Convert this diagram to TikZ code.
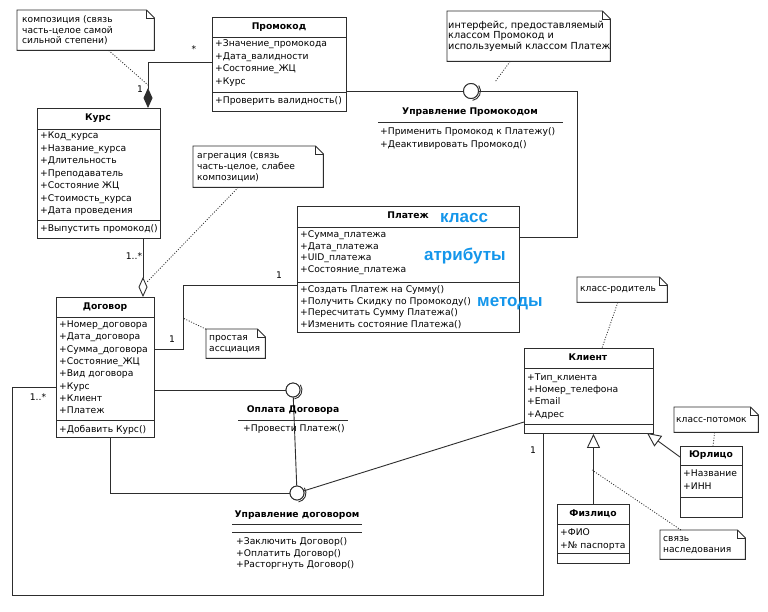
\documentclass[tikz,border=0pt]{standalone}
\usepackage{fontspec}
\setmainfont{DejaVu Sans}
\newfontfamily\lblfont{Liberation Sans}
\usetikzlibrary{arrows.meta,calc}
\definecolor{ln}{RGB}{45,45,45}
\definecolor{lbl}{RGB}{20,150,235}
\newcommand\fs{\fontsize{9.2}{12}\selectfont}
\newcommand\fsn{\fontsize{9.1}{10.8}\selectfont}
\newcommand\fsnb{\fontsize{9.7}{10.4}\selectfont}
\newcommand\notefold[1]{%
  \draw[conn] (#1.north west) -- ([xshift=-8pt]#1.north east) -- ([yshift=-8pt]#1.north east) -- (#1.south east) -- (#1.south west) -- cycle;
  \draw[conn] ([xshift=-8pt]#1.north east) -- ([xshift=-8pt,yshift=-8pt]#1.north east) -- ([yshift=-8pt]#1.north east);}
\begin{document}
\begin{tikzpicture}[x=1pt,y=-1pt,
  conn/.style={draw=ln, line width=0.9pt},
  box/.style={draw=ln, line width=0.9pt, fill=white, inner sep=0pt, anchor=north west},
  ttl/.style={font=\fs\bfseries, inner sep=0pt, text height=7pt, text depth=2pt},
  attr/.style={font=\fs, inner sep=0pt, anchor=west, text height=7pt, text depth=2pt},
  notebox/.style={inner sep=0pt, anchor=north west, font=\fsn, align=left},
  dotl/.style={draw=ln, line width=0.8pt, dash pattern=on 1pt off 1.6pt},
  lab/.style={font=\fs, inner sep=0pt},
  bluelbl/.style={font=\lblfont\fontsize{17}{17}\selectfont\bfseries, text=lbl, inner sep=0pt, anchor=base west},
  iface/.style={circle, draw=ln, line width=0.9pt, fill=white, minimum size=15pt, inner sep=0pt},
]
\fill[white] (0,0) rectangle (768,611);
\useasboundingbox (0,0) rectangle (768,611);

% ---------- Промокод
\node[box, minimum width=134pt, minimum height=94pt] (promo) at (212,17) {};
\draw[conn] (212,37) -- (346,37); \draw[conn] (212,92) -- (346,92);
\node[ttl] (promoT) at (279,27) {Промокод};
\foreach \t [count=\i from 0] in {+Значение\_промокода,+Дата\_валидности,+Состояние\_ЖЦ,+Курс}
  \node[attr] (promoA\i) at (215,{44+12.6*\i}) {\t};
\node[attr] (promoM) at (215,101) {+Проверить валидность()};

% ---------- Курс
\node[box, minimum width=123pt, minimum height=130pt] (kurs) at (37,108) {};
\draw[conn] (37,129) -- (160,129); \draw[conn] (37,220) -- (160,220);
\node[ttl] (kursT) at (98,118) {Курс};
\foreach \t [count=\i from 0] in {+Код\_курса,+Название\_курса,+Длительность,+Преподаватель,+Состояние ЖЦ,+Стоимость\_курса,+Дата проведения}
  \node[attr] (kursA\i) at (40,{136+12.5*\i}) {\t};
\node[attr] (kursM) at (40,229) {+Выпустить промокод()};

% ---------- Платеж
\node[box, minimum width=222pt, minimum height=126pt] (platezh) at (297,206) {};
\draw[conn] (297,227) -- (519,227); \draw[conn] (297,282) -- (519,282);
\node[ttl] (platezhT) at (408,216) {Платеж};
\foreach \t [count=\i from 0] in {+Сумма\_платежа,+Дата\_платежа,+UID\_платежа,+Состояние\_платежа}
  \node[attr] (platezhA\i) at (300,{235+11.7*\i}) {\t};
\foreach \t [count=\i from 0] in {+Создать Платеж на Сумму(),+Получить Скидку по Промокоду(),+Пересчитать Сумму Платежа(),+Изменить состояние Платежа()}
  \node[attr] (platezhM\i) at (300,{290+11.7*\i}) {\t};
\node[bluelbl] (lk) at (440,222) {класс};
\node[bluelbl] (la) at (424,260) {атрибуты};
\node[bluelbl] (lm) at (477,306) {методы};

% ---------- Договор
\node[box, minimum width=98pt, minimum height=140pt] (dogovor) at (56,297) {};
\draw[conn] (56,317) -- (154,317); \draw[conn] (56,420) -- (154,420);
\node[ttl] (dogovorT) at (105,307) {Договор};
\foreach \t [count=\i from 0] in {+Номер\_договора,+Дата\_договора,+Сумма\_договора,+Состояние\_ЖЦ,+Вид договора,+Курс,+Клиент,+Платеж}
  \node[attr] (dogovorA\i) at (59,{325+12.3*\i}) {\t};
\node[attr] (dogovorM) at (59,430) {+Добавить Курс()};

% ---------- Клиент
\node[box, minimum width=129pt, minimum height=85pt] (klient) at (524,348) {};
\draw[conn] (524,368) -- (653,368); \draw[conn] (524,424) -- (653,424);
\node[ttl] (klientT) at (588,358) {Клиент};
\foreach \t [count=\i from 0] in {+Тип\_клиента,+Номер\_телефона,+Email,+Адрес}
  \node[attr] (klientA\i) at (527,{378+12.2*\i}) {\t};

% ---------- Юрлицо
\node[box, minimum width=62pt, minimum height=71pt] (urlico) at (680,446) {};
\draw[conn] (680,465) -- (742,465); \draw[conn] (680,497) -- (742,497);
\node[ttl] (urlicoT) at (711,455) {Юрлицо};
\node[attr] (urlicoA0) at (683,474) {+Название};
\node[attr] (urlicoA1) at (683,487) {+ИНН};

% ---------- Физлицо
\node[box, minimum width=72pt, minimum height=59pt] (fizlico) at (557,504) {};
\draw[conn] (557,524) -- (629,524); \draw[conn] (557,553) -- (629,553);
\node[ttl] (fizlicoT) at (593,514) {Физлицо};
\node[attr] (fizlicoA0) at (560,533) {+ФИО};
\node[attr] (fizlicoA1) at (560,546) {+№ паспорта};

% ---------- interfaces
\node[iface] (ipromo) at (471,91) {};
\node[iface, minimum size=14pt] (ioplata) at (293,390) {};
\node[iface, minimum size=14pt] (iupr) at (297,493) {};

% ---------- connectors
\coordinate (c1) at (148,62);
\draw[conn, -{Diamond[length=20pt,width=9pt]}] (c1 -| promo.west) -- (c1) -- (c1 |- kurs.north);
\coordinate (c2) at (143,250);
\draw[conn, -{Diamond[open,fill=white,length=20pt,width=9pt]}] (c2 |- kurs.south) -- (c2 |- dogovor.north);
\coordinate (c3) at (183,349); \coordinate (c3b) at (183,285);
\draw[conn] (c3 -| dogovor.east) -- (c3) -- (c3b) -- (c3b -| platezh.west);
\draw[conn] (ipromo.west -| promo.east) -- (ipromo.west);
\coordinate (c5) at (577,237);
\draw[conn] (ipromo.east) -- (ipromo.east -| c5) -- (c5) -- (c5 -| platezh.east);
\draw[conn] (ioplata.west -| dogovor.east) -- (ioplata.west);
\draw[conn] (ioplata) -- (iupr);
\coordinate (c6) at (110,493);
\draw[conn] (c6 |- dogovor.south) -- (c6) -- (iupr.west);
\coordinate (c7) at (524,422);
\draw[conn] (iupr) -- (klient.west |- c7);
\coordinate (c8) at (12,387); \coordinate (c9) at (12,595); \coordinate (c10) at (543,595);
\draw[conn] (c8 -| dogovor.west) -- (c8) -- (c9) -- (c10) -- (c10 |- klient.south);
\draw[conn, -{Triangle[open,fill=white,length=14pt,width=13pt]}] (fizlico.north) -- (fizlico.north |- klient.south);
\coordinate (c12) at (680,457); \coordinate (c13) at (647,433);
\draw[conn, -{Triangle[open,fill=white,length=14pt,width=13pt]}] (urlico.west |- c12) -- (c13);

% redraw interface circles on top, with socket arcs
\node[iface] at (ipromo) {};
\node[iface, minimum size=14pt] at (ioplata) {};
\node[iface, minimum size=14pt] at (iupr) {};
\draw[conn] ($(ipromo.center)+(-35:9.5)$) arc (-35:80:9.5);
\draw[conn] ($(ioplata.center)+(-35:9)$) arc (-35:80:9);
\draw[conn] ($(iupr.center)+(-35:9)$) arc (-35:80:9);

\node[ttl] (ipromoT) at (470,112) {Управление Промокодом};
\draw[conn] (378,122) -- (563,122);
\node[attr] (ipromoM0) at (380,132) {+Применить Промокод к Платежу()};
\node[attr] (ipromoM1) at (380,145) {+Деактивировать Промокод()};

\node[ttl] (ioplataT) at (293,410) {Оплата Договора};
\draw[conn] (238,420) -- (348,420);
\node[attr] (ioplataM) at (243,429) {+Провести Платеж()};

\node[ttl] (iuprT) at (297,515) {Управление договором};
\draw[conn] (232,524) -- (362,524); \draw[conn] (232,532) -- (362,532);
\node[attr] (iuprM0) at (236,542) {+Заключить Договор()};
\node[attr] (iuprM1) at (236,554) {+Оплатить Договор()};
\node[attr] (iuprM2) at (236,565) {+Расторгнуть Договор()};

% ---------- multiplicities
\node[lab] (m1) at (140,89) {1};
\node[lab] (m2) at (194,49) {*};
\node[lab] (m3) at (134,256) {1..*};
\node[lab] (m4) at (172,339) {1};
\node[lab] (m5) at (279,275) {1};
\node[lab] (m6) at (38,397) {1..*};
\node[lab] (m7) at (533,450) {1};

% ---------- notes
\node[notebox, minimum width=137pt, minimum height=40pt, text width=127pt] (n1) at (17,10) {композиция (связь\\часть-целое самой\\сильной степени)};
\notefold{n1}
\node[notebox, font=\fsnb, minimum width=163pt, minimum height=50pt, text width=161pt] (n2) at (447,11) {интерфейс,~предоставляемый\\классом~Промокод~и\\используемый~классом~Платеж};
\notefold{n2}
\node[notebox, minimum width=130pt, minimum height=41pt, text width=122pt] (n3) at (193,146) {агрегация (связь\\часть-целое, слабее\\композиции)};
\notefold{n3}
\node[notebox, minimum width=59pt, minimum height=29pt, text width=53pt] (n4) at (206,329) {простая\\ассциация};
\notefold{n4}
\node[notebox, minimum width=90pt, minimum height=25pt, text width=84pt] (n5) at (577,277) {класс-родитель};
\notefold{n5}
\node[notebox, minimum width=84pt, minimum height=25pt, text width=80pt] (n6) at (674,407) {класс-потомок};
\notefold{n6}
\node[notebox, minimum width=85pt, minimum height=29pt, text width=79pt] (n7) at (660,530) {связь\\наследования};
\notefold{n7}

\coordinate (d1) at (148,85);
\coordinate (d2) at (495,82);
\coordinate (d3) at (147,282);
\coordinate (d4) at (183,318);
\coordinate (d5) at (602,348);
\coordinate (d6) at (713,446);
\coordinate (d7) at (592,470);
\draw[dotl] (n1) -- (d1);
\draw[dotl] (n2) -- (d2);
\draw[dotl] (n3) -- (d3);
\draw[dotl] (n4) -- (d4);
\draw[dotl] (n5) -- (d5);
\draw[dotl] (n6) -- (d6);
\draw[dotl] (n7) -- (d7);
\end{tikzpicture}
\end{document}
